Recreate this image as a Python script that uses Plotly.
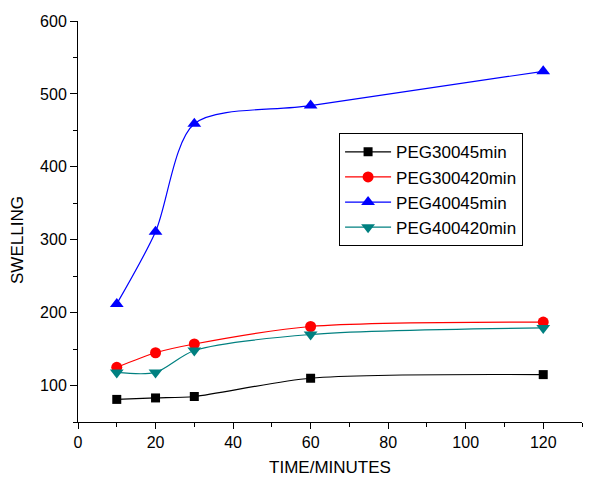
import plotly.graph_objects as go

# Swelling measurements over time for each PEG sample
time_min = [10, 20, 30, 60, 120]
peg300_45 = [81, 83, 85, 110, 115]
peg300_420 = [125, 145, 157, 181, 187]
peg400_45 = [212, 311, 459, 484, 531]
peg400_420 = [118, 118, 148, 170, 179]

series = [
    ("PEG30045min", peg300_45, "black", "square", 9),
    ("PEG300420min", peg300_420, "red", "circle", 11),
    ("PEG40045min", peg400_45, "blue", "triangle-up", 12),
    ("PEG400420min", peg400_420, "#008080", "triangle-down", 12),
]

y_ticks = [100, 200, 300, 400, 500, 600]
x_ticks = [0, 20, 40, 60, 80, 100, 120]

font_family = "Arial, Liberation Sans, Helvetica, sans-serif"

fig = go.Figure()
for name, vals, color, symbol, size in series:
    fig.add_trace(go.Scatter(
        x=time_min, y=vals, name=name,
        mode="lines+markers",
        line=dict(color=color, width=1.2, shape="spline", smoothing=0.8),
        marker=dict(symbol=symbol, size=size, color=color),
    ))

# Y-axis title placed slightly below the plot centre
fig.add_annotation(
    text="SWELLING", textangle=-90, showarrow=False,
    xref="paper", yref="paper", x=-0.119, y=0.454,
    xanchor="center", yanchor="middle",
    font=dict(size=17, family=font_family, color="black"),
)

fig.update_layout(
    width=609, height=480,
    margin=dict(l=78, r=27, t=21, b=58),
    paper_bgcolor="white", plot_bgcolor="white",
    font=dict(family=font_family, size=16, color="black"),
    showlegend=True,
    legend=dict(
        x=0.518, y=0.72, xanchor="left", yanchor="top",
        bordercolor="black", borderwidth=1, bgcolor="white",
        font=dict(size=17, family=font_family),
        itemwidth=46, tracegroupgap=0,
    ),
    xaxis=dict(
        range=[0, 130], showgrid=False, zeroline=False, automargin=False,
        showline=True, linecolor="black", linewidth=1,
        tickmode="array", tickvals=x_ticks,
        ticks="outside", ticklen=6, tickcolor="black",
        minor=dict(dtick=10, tick0=0, ticks="outside", ticklen=4, tickcolor="black"),
        tickfont=dict(size=16),
        title=dict(text="TIME/MINUTES", font=dict(size=17), standoff=10),
    ),
    yaxis=dict(
        range=[50, 600], showgrid=False, zeroline=False, automargin=False,
        showline=True, linecolor="black", linewidth=1,
        tickmode="array", tickvals=y_ticks,
        ticks="outside", ticklen=7, tickcolor="black",
        minor=dict(dtick=50, tick0=0, ticks="outside", ticklen=4, tickcolor="black"),
        tickfont=dict(size=16),
    ),
)

fig.write_html("out.html")
